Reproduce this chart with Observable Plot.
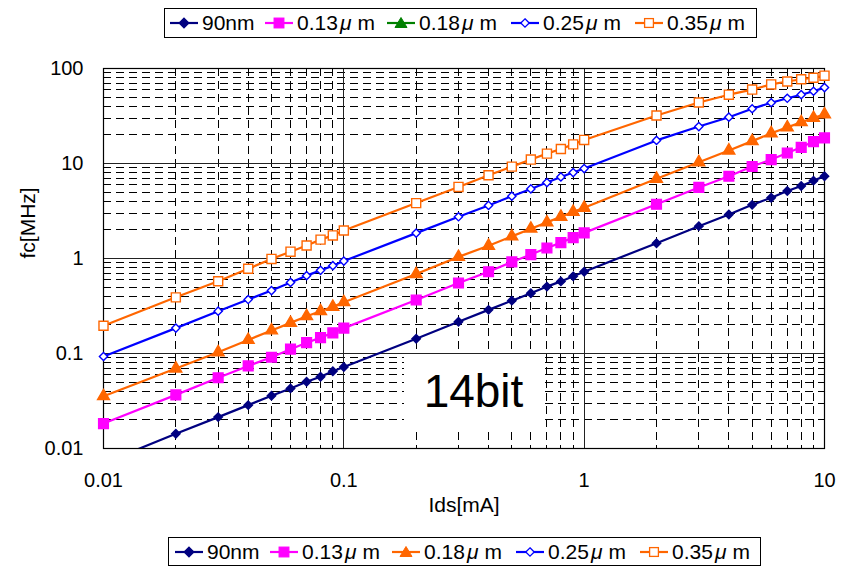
<!DOCTYPE html>
<html>
<head>
<meta charset="utf-8">
<script src="https://cdn.jsdelivr.net/npm/d3@7"></script>
<script src="https://cdn.jsdelivr.net/npm/@observablehq/plot@0.6"></script>
<style>
  html, body { margin: 0; padding: 0; background: #fff; }
  #wrap { position: relative; width: 849px; height: 570px; overflow: hidden; font-family: "Liberation Sans", Arial, sans-serif; }
  #chart { position: absolute; left: 0; top: 0; }
  .legend { position: absolute; box-sizing: border-box; border: 1px solid #000; background: #fff;
            display: flex; align-items: center; font-size: 21px; color: #000; white-space: nowrap; }
  .item { display: flex; align-items: center; flex: none; }
  .item svg { margin-right: 4px; flex: none; }
  .mu { display: inline-block; margin-left: 2px; margin-right: 6px; font-style: italic; }
  #note { position: absolute; left: 404px; top: 354px; width: 139px; height: 74px; background: #fff;
          display: flex; align-items: center; justify-content: center; font-size: 46px; }
</style>
</head>
<body>
<div id="wrap">
  <div id="chart"></div>
  <div id="legendTop" class="legend" style="left:164px; top:8px; width:593px; height:30px; padding-left:5px;"></div>
  <div id="legendBottom" class="legend" style="left:168px; top:537px; width:593px; height:29px; padding-left:6px;"></div>
  <div id="note">14bit</div>
</div>
<script>
// ---- data ----
const ids = [0.01,0.02,0.03,0.04,0.05,0.06,0.07,0.08,0.09,
             0.1,0.2,0.3,0.4,0.5,0.6,0.7,0.8,0.9,
             1,2,3,4,5,6,7,8,9,10];
const fc90nm = [0.007,0.0143,0.0214,0.0286,0.0359,0.0429,0.0504,0.057,0.065,
                0.072,0.143,0.216,0.288,0.36,0.43,0.506,0.574,0.649,
                0.726,1.45,2.19,2.9,3.67,4.36,5.13,5.8,6.6,7.35];
const fc013 = [0.0183,0.0367,0.0555,0.074,0.0914,0.111,0.13,0.147,0.165,
               0.185,0.366,0.552,0.726,0.92,1.1,1.29,1.47,1.66,
               1.86,3.72,5.6,7.35,9.3,11,12.9,14.8,17,18.6];
const fc018 = [0.0355,0.0695,0.103,0.139,0.175,0.21,0.247,0.279,0.31,
               0.347,0.686,1.04,1.36,1.71,2.06,2.4,2.75,3.1,
               3.42,6.9,10.3,13.7,17.2,20.8,24,27.2,30.2,32.8];
const fc025 = [0.093,0.185,0.279,0.37,0.46,0.56,0.66,0.75,0.84,
               0.94,1.85,2.75,3.62,4.53,5.4,6.3,7.22,8.03,
               8.85,17.5,24.5,30.7,37.7,43.6,48.6,53,57.6,63];
const fc035 = [0.196,0.39,0.576,0.78,0.99,1.18,1.37,1.58,1.75,
               1.97,3.83,5.67,7.52,9.27,11,12.7,14.2,15.9,
               17.7,32,43.9,53,60,68,73,77,80,84];
const seriesNames = ["90nm","0.13μm","0.18μm","0.25μm","0.35μm"];
const xTicks = [0.01,0.1,1,10];
const xTickLabels = ["0.01","0.1","1","10"];
const yTicks = [0.01,0.1,1,10,100];
const yTickLabels = ["0.01","0.1","1","10","100"];
const xLabel = "Ids[mA]";
const yLabel = "fc[MHz]";

// ---- styles ----
const styles = [
  {color:"#000080", symbol:"diamond2", fill:"#000080", r:3.8},
  {color:"#FF00FF", symbol:"square", fill:"#FF00FF", r:5.5},
  {color:"#FF6600", symbol:"triangle", fill:"#FF6600", r:4.4},
  {color:"#0000FF", symbol:"diamond2", fill:"#fff", r:3.7},
  {color:"#FF6600", symbol:"square", fill:"#fff", r:5.1}
];
const allSeries = [fc90nm, fc013, fc018, fc025, fc035];
const rows = allSeries.map((vals, s) => vals.map((v, i) => ({x: ids[i], y: v, s})));

function minors(lo, hi) {
  const out = [];
  for (let e = lo; e < hi; e++) for (let k = 2; k <= 9; k++) out.push(k * Math.pow(10, e));
  return out;
}
const xMinor = minors(-2, 1);
const yMinor = minors(-2, 2);

const marks = [
  Plot.ruleX(xMinor, {stroke:"#000", strokeWidth:1, strokeDasharray:"8,5", shapeRendering:"crispEdges"}),
  Plot.ruleY(yMinor, {stroke:"#000", strokeWidth:1, strokeDasharray:"8,5", shapeRendering:"crispEdges"}),
  Plot.ruleX(xTicks, {stroke:"#222", strokeWidth:1, shapeRendering:"crispEdges"}),
  Plot.ruleY(yTicks, {stroke:"#222", strokeWidth:1, shapeRendering:"crispEdges"}),
  Plot.frame({stroke:"#000", strokeWidth:1.2}),
  Plot.axisX({ticks:xTicks, tickFormat:d => xTickLabels[xTicks.indexOf(d)], tickSize:0, tickPadding:24, fontSize:20, label:null}),
  Plot.axisY({ticks:yTicks, tickFormat:d => yTickLabels[yTicks.indexOf(d)], tickSize:0, tickPadding:20, fontSize:20, label:null}),
  Plot.text([xLabel], {frameAnchor:"bottom", dy:63, fontSize:21}),
  Plot.text([yLabel], {frameAnchor:"left", dx:-75, rotate:-90, fontSize:21})
];
rows.forEach((data, s) => {
  const st = styles[s];
  marks.push(Plot.line(data, {x:"x", y:"y", stroke:st.color, strokeWidth:2.2, clip:true}));
  marks.push(Plot.dot(data.filter(d => d.y >= 0.01), {x:"x", y:"y", symbol:st.symbol, r:st.r, fill:st.fill, stroke:st.color, strokeWidth:1.4}));
});

const chart = Plot.plot({
  width: 849, height: 570,
  marginLeft: 103, marginRight: 25, marginTop: 68, marginBottom: 122,
  style: {fontFamily: "Liberation Sans, Arial, sans-serif", background: "transparent", color: "#000"},
  x: {type:"log", domain:[0.01, 10]},
  y: {type:"log", domain:[0.01, 100]},
  marks
});
document.getElementById("chart").appendChild(chart);

// ---- legends ----
const itemWidths = [95, 122, 124, 124, 118];
function markerSvg(st, colorOverride) {
  const c = colorOverride || st.color;
  const fill = st.fill === "#fff" ? "#fff" : c;
  let shape = "";
  if (st.symbol === "diamond2") {
    const h = st.fill === "#fff" ? 4.2 : 4.8;
    shape = `<path d="M14,${8-h} L${14+h},8 L14,${8+h} L${14-h},8 Z" fill="${fill}" stroke="${c}" stroke-width="1.3"/>`;
  } else if (st.symbol === "square") {
    const h = st.fill === "#fff" ? 4.4 : 4.8;
    shape = `<rect x="${14-h}" y="${8-h}" width="${2*h}" height="${2*h}" fill="${fill}" stroke="${c}" stroke-width="1.3"/>`;
  } else {
    shape = `<path d="M14,2.5 L20,12.5 L8,12.5 Z" fill="${fill}" stroke="${c}" stroke-width="1"/>`;
  }
  return `<svg width="28" height="16"><line x1="0" y1="8" x2="28" y2="8" stroke="${c}" stroke-width="2.2"/>${shape}</svg>`;
}
function labelHtml(name) {
  return name.replace("μ", '<span class="mu">μ</span>');
}
function buildLegend(id, overrides) {
  const el = document.getElementById(id);
  seriesNames.forEach((name, i) => {
    const d = document.createElement("div");
    d.className = "item";
    d.style.width = itemWidths[i] + "px";
    d.innerHTML = markerSvg(styles[i], overrides[i]) + `<span>${labelHtml(name)}</span>`;
    el.appendChild(d);
  });
}
buildLegend("legendTop", {2: "#008000"});
buildLegend("legendBottom", {});
</script>
</body>
</html>
